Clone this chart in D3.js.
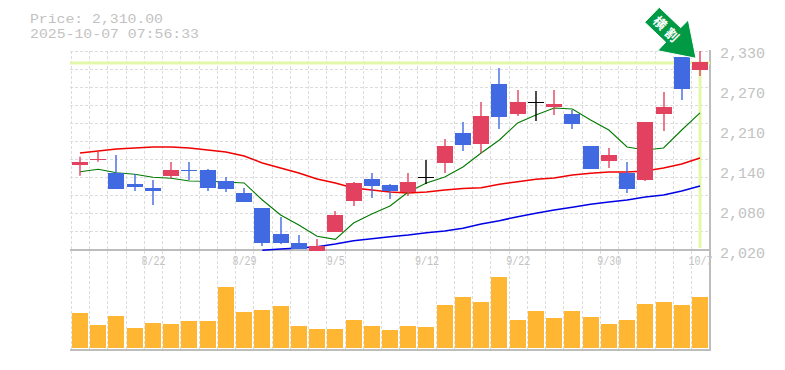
<!DOCTYPE html>
<html><head><meta charset="utf-8">
<script src="https://cdn.jsdelivr.net/npm/d3@7"></script>
<style>html,body{margin:0;padding:0;background:#fff}svg{display:block}</style>
</head><body><div id="c"></div>
<script>
const dates=["8/18","8/19","8/20","8/21","8/22","8/25","8/26","8/27","8/28","8/29","9/1","9/2","9/3","9/4","9/5","9/8","9/9","9/10","9/11","9/12","9/16","9/17","9/18","9/19","9/22","9/24","9/25","9/26","9/29","9/30","10/1","10/2","10/3","10/6","10/7"];
const dateTicks=["8/22","8/29","9/5","9/12","9/22","9/30","10/7"];
const priceTicks=[2330,2268,2206,2144,2082,2020];
const open=[2151.8,2160.3,2139.4,2122.3,2116.1,2134.7,2144.2,2144,2127,2108.4,2085.1,2044.8,2030.9,2018.5,2047.9,2096,2130,2120.8,2109.9,2132.7,2154.9,2201.4,2184.3,2277.3,2230.8,2248.9,2241.7,2230.8,2181.2,2158,2139.4,2128.5,2230.8,2319.2,2299];
const close=[2156.4,2160.9,2114.6,2117.7,2111.5,2144,2143.8,2116.1,2114.6,2094.4,2030.9,2030.9,2021.6,2026.2,2074.3,2123.9,2119.2,2111.5,2125.4,2132.7,2181.2,2182.8,2227.7,2226.2,2249.4,2248.9,2246.3,2215.3,2145.6,2167.3,2114.6,2218.4,2241.7,2269.5,2311.4];
const high=[2164.6,2173.9,2167.3,2137.8,2128.5,2156.4,2156.4,2145.6,2133.2,2116.1,2085.1,2071.2,2043.3,2037,2080.5,2125.4,2139.4,2122.3,2139.4,2159.5,2192,2218.4,2249.4,2302.1,2268,2266.5,2268,2237,2181.2,2178.1,2156.4,2218.4,2264.9,2319.2,2328.4];
const low=[2135.2,2156.9,2114.6,2111.5,2089.8,2131.6,2128.5,2111.5,2109.9,2094.4,2026.2,2029.3,2021.6,2018.5,2047.9,2088.2,2100.6,2099,2103.7,2122.3,2139.4,2173.5,2170.4,2207.6,2227.7,2220,2229.3,2207.6,2145.6,2147.1,2108.4,2127,2204.4,2252.5,2289.7];
const volume=[35,23,32,20,25,24,27,27,61,36,38,42,22,19,19,28,22,18,22,21,43,51,46,71,28,37,30,37,31,24,28,44,46,43,51];
const maShort=[2141.4,2145.1,2139.8,2137.3,2132.7,2131.1,2127,2126.5,2125.4,2123.9,2097.5,2074.3,2058.8,2041.2,2036.6,2061.9,2075.8,2088.2,2109.9,2123.9,2133.2,2148.7,2170.4,2190.5,2216.9,2229.3,2240.1,2238.6,2221.5,2206,2179.7,2175,2178.1,2206,2232.4];
const maMid=[2170.4,2173.5,2176.6,2178.1,2179.6,2179.6,2178.1,2175,2171.9,2165.7,2154.9,2147.1,2139.4,2130,2123.9,2116.1,2113,2109.9,2108.4,2109.9,2113,2115.3,2116.6,2121.8,2125.9,2129.6,2131.6,2136.3,2138.9,2140.9,2140.9,2142.5,2147.1,2153.3,2162.6];
const maLongStart=10;
const maLong=[2019.5,2021.6,2023.1,2025.1,2029.3,2034.4,2037.5,2040.6,2043.3,2046.8,2049.5,2053.6,2060.3,2065.4,2071.6,2076.9,2082,2086.2,2090.8,2094.4,2097.5,2102.2,2105.3,2111.5,2119.2];
const lastPrice=2310, lastIndex=34;
const headerLines=["Price: 2,310.00","2025-10-07 07:56:33"];
const arrowChars=["横","割"];

const W=785,H=370,L=70,R=710,T=50,B=250,VT=277,VB=348,VA=350;
const GREY="#bdbdbd",TXT="#c2c2c2",RED="#e2425f",BLUE="#4169e1",YEL="#e3f7a9",ORG="#ffb733";
const FONT='"Liberation Mono",monospace';
const svg=d3.select("#c").append("svg").attr("width",W).attr("height",H);
const x=d3.scalePoint().domain(dates).range([80,700]);
const y=d3.scaleLinear().domain([2020,2330]).range([B,T]);
const v=d3.scaleLinear().domain([0,d3.max(volume)]).range([VB,VT]);
const n=dates.length, idx=d3.range(n);
const cx=i=>Math.round(x(dates[i]));

// grid
const g=svg.append("g").attr("stroke","#dcdcdc").attr("stroke-dasharray","3,2").attr("fill","none").attr("shape-rendering","crispEdges");
d3.range(0,12).forEach(k=>g.append("line").attr("x1",L).attr("x2",R).attr("y1",51+18*k+.5).attr("y2",51+18*k+.5));
idx.forEach(i=>{const gx=Math.round(x(dates[i])-9)+.5;g.append("line").attr("x1",gx).attr("x2",gx).attr("y1",51).attr("y2",VA);});

// volume
svg.append("g").selectAll("rect").data(idx).join("rect")
 .attr("x",i=>cx(i)-8).attr("width",16)
 .attr("y",i=>Math.round(v(volume[i]))).attr("height",i=>VB-Math.round(v(volume[i])))
 .attr("fill",ORG);

// axes lines
const ax=svg.append("g").attr("stroke",GREY).attr("stroke-width",1.5).attr("shape-rendering","crispEdges");
ax.append("line").attr("x1",L).attr("x2",R).attr("y1",B).attr("y2",B);
ax.append("line").attr("x1",L).attr("x2",R+1).attr("y1",VA).attr("y2",VA);
ax.append("line").attr("x1",R).attr("x2",R).attr("y1",T).attr("y2",VA);

// last-price cross
svg.append("line").attr("x1",L).attr("x2",R).attr("y1",y(lastPrice)).attr("y2",y(lastPrice)).attr("stroke",YEL).attr("stroke-width",3);
svg.append("line").attr("x1",cx(lastIndex)).attr("x2",cx(lastIndex)).attr("y1",y(lastPrice)).attr("y2",B-2).attr("stroke",YEL).attr("stroke-width",3);

// moving averages
const line=off=>d3.line().x((d,i)=>x(dates[i+off])).y(d=>y(d));
svg.append("path").attr("d",line(maLongStart)(maLong)).attr("fill","none").attr("stroke","#0000e6").attr("stroke-width",1.5);
svg.append("path").attr("d",line(0)(maMid)).attr("fill","none").attr("stroke","#f00000").attr("stroke-width",1.5);
svg.append("path").attr("d",line(0)(maShort)).attr("fill","none").attr("stroke","#007a00").attr("stroke-width",1.1);

// candles
const col=i=>close[i]>open[i]?RED:close[i]<open[i]?BLUE:"#000";
const cs=svg.append("g").selectAll("g").data(idx).join("g");
cs.append("line").attr("x1",cx).attr("x2",cx).attr("y1",i=>y(high[i])).attr("y2",i=>y(low[i])).attr("stroke",col).attr("stroke-width",1.4);
cs.append("rect").attr("x",i=>cx(i)-8).attr("width",16)
 .attr("y",i=>Math.round(y(Math.max(open[i],close[i]))))
 .attr("height",i=>Math.max(1,Math.round(y(Math.min(open[i],close[i])))-Math.round(y(Math.max(open[i],close[i])))))
 .attr("fill",col);

// arrow annotation
const arrow=svg.append("g");
arrow.append("path").attr("d","M659.3,7.3L644.7,22.3L665.7,42.3L657.7,50.7L696,58.3L688.3,20L680.7,27.7Z").attr("fill","#009944").attr("stroke","#fff").attr("stroke-width",1);
arrow.selectAll("text").data(arrowChars).join("text")
 .attr("transform",(d,i)=>`translate(${660+12*i},${23+12*i}) rotate(45)`)
 .attr("text-anchor","middle").attr("dy","0.36em").attr("font-family",'"Noto Sans CJK JP"').attr("font-size",13).attr("font-weight",700).attr("fill","#fff").text(d=>d);

// y axis labels
const ya=svg.append("g").attr("transform",`translate(${R},0)`).call(d3.axisRight(y).tickValues(priceTicks).tickSize(0).tickPadding(10).tickFormat(d=>d3.format(",")(Math.round(d/10)*10)));
ya.select(".domain").remove();
ya.selectAll("text").attr("font-family",FONT).attr("font-size",15).attr("fill",TXT).attr("dy",null).attr("y",7.5);

// x axis labels
const xa=svg.append("g").attr("transform",`translate(0,${B})`).call(d3.axisBottom(x).tickValues(dateTicks).tickSize(0).tickPadding(0));
xa.select(".domain").remove();
xa.selectAll("text").attr("font-family",FONT).attr("font-size",12).attr("fill",TXT).attr("dy",null).attr("y",15)
 .attr("textLength",function(d){return d.length*6;}).attr("lengthAdjust","spacingAndGlyphs");

// header
svg.selectAll("text.h").data(headerLines).join("text").attr("class","h").attr("x",30).attr("y",(d,i)=>22.5+15*i)
 .attr("font-family",FONT).attr("font-size",13).attr("fill",TXT)
 .attr("textLength",d=>d.length*9-2).attr("lengthAdjust","spacingAndGlyphs").text(d=>d);
</script></body></html>
